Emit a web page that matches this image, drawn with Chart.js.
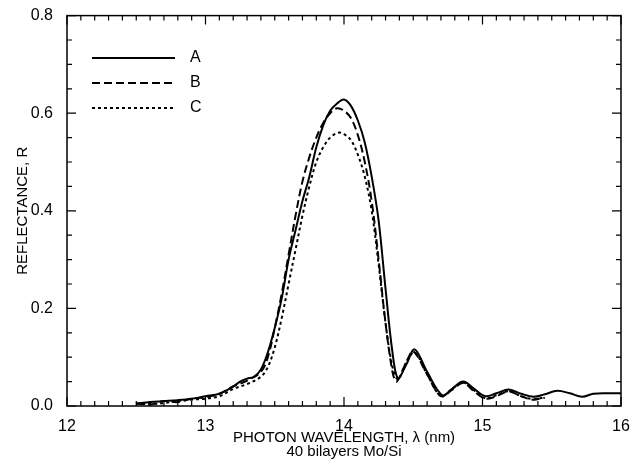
<!DOCTYPE html>
<html lang="en">
<head>
    <meta charset="UTF-8">
    <title>Reflectance vs wavelength</title>
    <style>
        body { margin: 0; background: #fff; }
        #wrap { width: 635px; height: 459px; }
    </style>
    <script src="https://cdn.jsdelivr.net/npm/chart.js"></script>
</head>
<body>
<div id="wrap"><canvas id="chart" width="635" height="459"></canvas></div>
<script>
    // values
    const seriesNames = ['A', 'B', 'C'];

    const xA = [12.5, 12.6, 12.7, 12.8, 12.9, 13.0, 13.1, 13.2, 13.25, 13.3, 13.35, 13.4, 13.45, 13.5, 13.55, 13.6, 13.65, 13.7, 13.75, 13.8, 13.85, 13.9, 13.95, 14.0, 14.05, 14.1, 14.15, 14.2, 14.25, 14.3, 14.35, 14.39, 14.45, 14.51, 14.6, 14.71, 14.78, 14.86, 14.94, 15.02, 15.1, 15.19, 15.28, 15.37, 15.45, 15.54, 15.63, 15.72, 15.8, 15.9, 16.0];
    const yA = [0.005, 0.008, 0.01, 0.012, 0.015, 0.02, 0.025, 0.04, 0.05, 0.056, 0.06, 0.075, 0.11, 0.16, 0.22, 0.3, 0.36, 0.42, 0.47, 0.53, 0.575, 0.605, 0.62, 0.628, 0.615, 0.585, 0.54, 0.47, 0.38, 0.24, 0.11, 0.057, 0.085, 0.116, 0.07, 0.022, 0.035, 0.05, 0.035, 0.02, 0.026, 0.034, 0.025, 0.019, 0.024, 0.031, 0.026, 0.019, 0.025, 0.026, 0.026];

    const xB = [12.5, 12.6, 12.7, 12.8, 12.9, 13.0, 13.1, 13.2, 13.3, 13.4, 13.45, 13.5, 13.55, 13.6, 13.65, 13.7, 13.75, 13.8, 13.85, 13.9, 13.95, 14.0, 14.05, 14.1, 14.15, 14.2, 14.25, 14.3, 14.35, 14.38, 14.45, 14.5, 14.6, 14.7, 14.78, 14.86, 14.94, 15.02, 15.1, 15.19, 15.28, 15.36, 15.45];
    const yB = [0.005, 0.003, 0.01, 0.008, 0.015, 0.018, 0.025, 0.04, 0.052, 0.07, 0.1, 0.16, 0.23, 0.31, 0.39, 0.46, 0.51, 0.55, 0.58, 0.6, 0.61, 0.605, 0.59, 0.555, 0.5, 0.42, 0.3, 0.17, 0.07, 0.05, 0.09, 0.112, 0.065, 0.02, 0.033, 0.047, 0.03, 0.015, 0.02, 0.03, 0.02, 0.013, 0.017];

    const xC = [12.5, 12.6, 12.7, 12.8, 12.9, 13.0, 13.1, 13.2, 13.3, 13.4, 13.45, 13.5, 13.55, 13.6, 13.65, 13.7, 13.75, 13.8, 13.85, 13.9, 13.96, 14.0, 14.05, 14.1, 14.15, 14.2, 14.25, 14.3, 14.35, 14.39, 14.45, 14.51, 14.6, 14.7, 14.78, 14.86, 14.94, 15.02, 15.1, 15.19, 15.28, 15.37, 15.45];
    const yC = [0.005, 0.004, 0.006, 0.01, 0.013, 0.015, 0.02, 0.035, 0.045, 0.06, 0.08, 0.12, 0.18, 0.25, 0.32, 0.39, 0.45, 0.5, 0.53, 0.55, 0.56, 0.557, 0.545, 0.515, 0.47, 0.4, 0.29, 0.17, 0.08, 0.055, 0.09, 0.11, 0.065, 0.02, 0.035, 0.048, 0.032, 0.016, 0.022, 0.03, 0.02, 0.014, 0.018];

    const xTicks = [12, 13, 14, 15, 16];
    const yTicks = [0.0, 0.2, 0.4, 0.6, 0.8];

    function pts(xs, ys) {
        return xs.map(function (x, i) { return { x: x, y: ys[i] }; });
    }

    const FONT = '"Liberation Sans", Arial, sans-serif';

    // inward ticks on all four sides, frame, and the legend inside the plot
    const framePlugin = {
        id: 'frame',
        afterDraw: function (chart) {
            const ctx = chart.ctx;
            const a = chart.chartArea;
            const xs = chart.scales.x, ys = chart.scales.y;
            ctx.save();
            ctx.strokeStyle = '#000';
            ctx.lineWidth = 1.5;
            ctx.strokeRect(a.left, a.top, a.right - a.left, a.bottom - a.top);
            ctx.lineWidth = 1.2;
            ctx.beginPath();
            for (let i = 0; i <= 40; i++) {
                const v = 12 + i * 0.1;
                const px = xs.getPixelForValue(v);
                const len = (i % 10 === 0) ? 9 : 5;
                ctx.moveTo(px, a.bottom); ctx.lineTo(px, a.bottom - len);
                ctx.moveTo(px, a.top); ctx.lineTo(px, a.top + len);
            }
            for (let i = 0; i <= 16; i++) {
                const v = i * 0.05;
                const py = ys.getPixelForValue(v);
                const len = (i % 4 === 0) ? 9 : 5;
                ctx.moveTo(a.left, py); ctx.lineTo(a.left + len, py);
                ctx.moveTo(a.right, py); ctx.lineTo(a.right - len, py);
            }
            ctx.stroke();

            // legend
            ctx.font = '16px ' + FONT;
            ctx.fillStyle = '#000';
            ctx.textBaseline = 'middle';
            chart.data.datasets.forEach(function (ds, i) {
                const y = 58 + i * 25;
                ctx.beginPath();
                ctx.lineWidth = ds.borderWidth;
                ctx.setLineDash(ds.borderDash || []);
                ctx.moveTo(92, y);
                ctx.lineTo(175, y);
                ctx.stroke();
                ctx.setLineDash([]);
                ctx.fillText(ds.label, 190, y);
            });
            ctx.restore();
        }
    };

    const chart = new Chart(document.getElementById('chart').getContext('2d'), {
        type: 'line',
        data: {
            datasets: [
                { label: seriesNames[0], data: pts(xA, yA), borderColor: '#000', borderWidth: 2, borderDash: [], pointRadius: 0, tension: 0.35, fill: false },
                { label: seriesNames[1], data: pts(xB, yB), borderColor: '#000', borderWidth: 2, borderDash: [8, 4], pointRadius: 0, tension: 0.35, fill: false },
                { label: seriesNames[2], data: pts(xC, yC), borderColor: '#000', borderWidth: 2, borderDash: [3, 3], pointRadius: 0, tension: 0.35, fill: false }
            ]
        },
        options: {
            responsive: false,
            animation: false,
            layout: { padding: { top: 14, right: 14, left: 0, bottom: 0 } },
            plugins: { legend: { display: false }, tooltip: { enabled: false } },
            scales: {
                x: {
                    type: 'linear', min: 12, max: 16,
                    afterBuildTicks: function (s) { s.ticks = xTicks.map(function (v) { return { value: v }; }); },
                    afterFit: function (s) { s.height = 53; },
                    grid: { display: false },
                    border: { display: false },
                    ticks: { color: '#000', padding: 3, font: { family: FONT, size: 16 }, maxRotation: 0 },
                    title: {
                        display: true,
                        text: ['PHOTON WAVELENGTH, \u03bb (nm)', '40 bilayers Mo/Si'],
                        color: '#000', padding: { top: 0, bottom: 0 },
                        font: { family: FONT, size: 15, lineHeight: 0.95 }
                    }
                },
                y: {
                    type: 'linear', min: 0, max: 0.8,
                    afterBuildTicks: function (s) { s.ticks = yTicks.map(function (v) { return { value: v }; }); },
                    afterFit: function (s) { s.width = 67; },
                    grid: { display: false },
                    border: { display: false },
                    ticks: {
                        color: '#000', padding: 6, font: { family: FONT, size: 16 },
                        callback: function (v) { return Number(v).toFixed(1); }
                    },
                    title: {
                        display: true, text: 'REFLECTANCE, R', color: '#000',
                        padding: { top: 14, bottom: 4 },
                        font: { family: FONT, size: 15 }
                    }
                }
            }
        },
        plugins: [framePlugin]
    });
</script>
</body>
</html>
